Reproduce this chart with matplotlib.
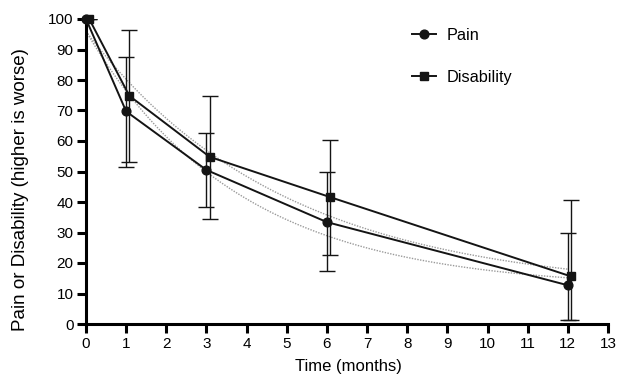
import numpy as np
import matplotlib
matplotlib.use("Agg")
import matplotlib.pyplot as plt

plt.rcParams["font.family"] = ["Liberation Sans", "DejaVu Sans"]

# Follow-up times (months) and mean scores
months = [0, 1, 3, 6, 12]
pain = [100, 69.7, 50.5, 33.4, 12.7]
disability = [100, 74.8, 54.8, 41.6, 15.6]

# Error bar ends (lower / upper)
pain_low = [100, 51.6, 38.3, 17.5, 1.2]
pain_high = [100, 87.5, 62.6, 49.7, 29.8]
dis_low = [100, 53.1, 34.5, 22.6, 1.2]
dis_high = [100, 96.5, 74.9, 60.4, 40.5]

x_ticks = list(range(0, 14))
y_ticks = list(range(0, 101, 10))


def one_phase_decay(x, y):
    """Least-squares fit of y = P + (Y0 - P) * exp(-k x)."""
    x = np.asarray(x, float)
    y = np.asarray(y, float)
    best = None
    for k in np.linspace(0.01, 3.0, 3000):
        A = np.column_stack([np.ones_like(x), np.exp(-k * x)])
        coef, *_ = np.linalg.lstsq(A, y, rcond=None)
        sse = np.sum((A @ coef - y) ** 2)
        if best is None or sse < best[0]:
            best = (sse, k, coef)
    _, k, coef = best
    return lambda t: coef[0] + coef[1] * np.exp(-k * t)


W, H = 618, 377
fig = plt.figure(figsize=(W / 100, H / 100), dpi=100)
ax = fig.add_axes([86 / W, 1 - 324 / H, 522 / W, 305 / H])

dark = "#141414"
shift = 0.08  # small horizontal nudge so the two series do not overlap

xs_p = np.array(months, float)
xs_d = xs_p + shift

# fitted decay curves
tt = np.linspace(0, 12, 300)
ax.plot(tt, one_phase_decay(months, pain)(tt), ls=(0, (1, 1)), color="#9a9a9a", lw=1.0, zorder=1)
ax.plot(tt, one_phase_decay(months, disability)(tt), ls=(0, (1, 1)), color="#9a9a9a", lw=1.0, zorder=1)

p_err = [np.array(pain) - np.array(pain_low), np.array(pain_high) - np.array(pain)]
d_err = [np.array(disability) - np.array(dis_low), np.array(dis_high) - np.array(disability)]

ax.errorbar(xs_p, pain, yerr=p_err, fmt="none", ecolor=dark, elinewidth=1.0,
            capsize=5.5, capthick=1.0, zorder=2)
ax.errorbar(xs_d, disability, yerr=d_err, fmt="none", ecolor=dark, elinewidth=1.0,
            capsize=5.5, capthick=1.0, zorder=2)

ax.plot(xs_p, pain, "-o", color=dark, lw=1.4, ms=6.3, label="Pain", zorder=3, clip_on=False)
ax.plot(xs_d, disability, "-s", color=dark, lw=1.4, ms=6.3, label="Disability", zorder=3, clip_on=False)

ax.set_xlim(0, 13)
ax.set_ylim(0, 100)
ax.set_xticks(x_ticks)
ax.set_yticks(y_ticks)
for side in ("top", "right"):
    ax.spines[side].set_visible(False)
for side in ("left", "bottom"):
    ax.spines[side].set_linewidth(2.2)
    ax.spines[side].set_color("black")
    ax.spines[side].set_capstyle("projecting")
ax.tick_params(axis="both", direction="out", length=6.5, width=2.2, labelsize=11, pad=2.5)

fig.text(348 / W, 1 - 367 / H, "Time (months)", fontsize=12, ha="center", va="center")
fig.text(20.5 / W, 1 - 190 / H, "Pain or Disability (higher is worse)", fontsize=13.5,
         rotation=90, ha="center", va="center")

ax.legend(loc="upper left", bbox_to_anchor=(0.6245, 0.972), frameon=False,
          fontsize=11.7, handlelength=1.45, handletextpad=0.7, labelspacing=1.7,
          borderpad=0, borderaxespad=0)

fig.savefig("out.png", dpi=100)
